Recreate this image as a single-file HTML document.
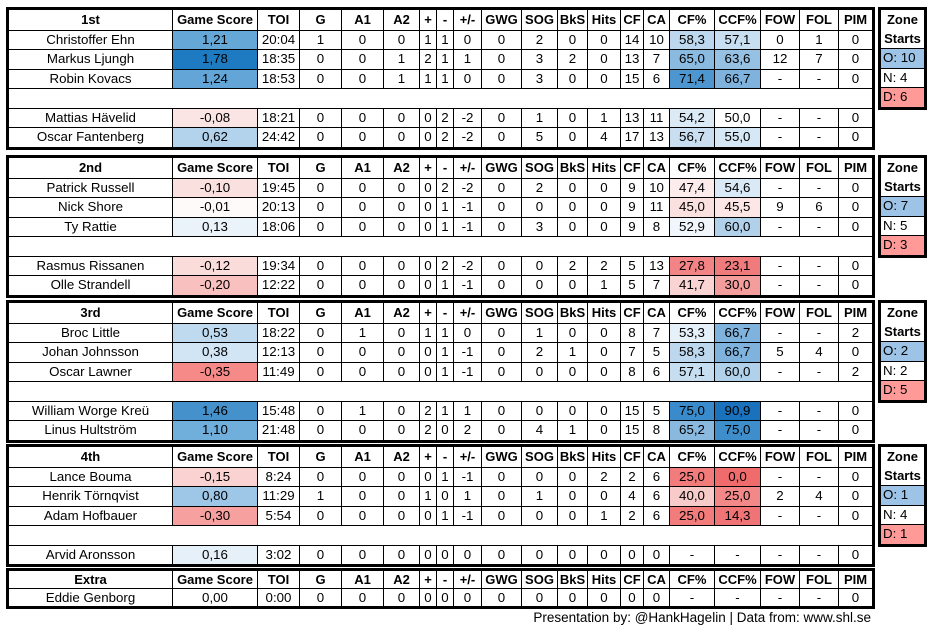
<!DOCTYPE html>
<html><head><meta charset="utf-8"><style>
body{margin:0;width:931px;height:635px;background:#fff;position:relative;font-family:"Liberation Sans",sans-serif;font-size:13.3px;color:#000;overflow:hidden}
table{position:absolute;border-collapse:collapse;table-layout:fixed;border:3px solid #000}
td,th{border:1px solid #000;padding:0;text-align:center;white-space:nowrap;overflow:hidden;line-height:16px}
th{font-weight:bold;height:19.5px;font-size:13px}
td{height:18.5px}
tr.b td{border-left:none;border-right:none}
.m{left:6px;width:869px}
.z{left:878px;width:49px}
.z td{text-align:left;padding-left:2px}
.z td.h{font-weight:bold;text-align:center;padding:0;border-top:none;border-bottom:none;font-size:13px}
.O{background:#9dc3e6}.D{background:#ff9a99}
.x th{height:17px}.x td{height:17px}
.f{position:absolute;left:0;width:871px;text-align:right;top:610px;font-size:13.5px}
</style></head><body>

<table class="m" style="top:7px">
<colgroup><col style="width:165px"><col style="width:85px"><col style="width:42px"><col style="width:42px"><col style="width:42px"><col style="width:36px"><col style="width:17px"><col style="width:17px"><col style="width:28px"><col style="width:40px"><col style="width:36px"><col style="width:30px"><col style="width:33px"><col style="width:23px"><col style="width:26px"><col style="width:45px"><col style="width:46px"><col style="width:39px"><col style="width:39px"><col style="width:35px"></colgroup>
<tr><th>1st</th><th>Game Score</th><th>TOI</th><th>G</th><th>A1</th><th>A2</th><th>+</th><th>-</th><th>+/-</th><th>GWG</th><th>SOG</th><th>BkS</th><th>Hits</th><th>CF</th><th>CA</th><th>CF%</th><th>CCF%</th><th>FOW</th><th>FOL</th><th>PIM</th></tr>
<tr><td>Christoffer Ehn</td><td style="background:#65a7d7">1,21</td><td>20:04</td><td>1</td><td>0</td><td>0</td><td>1</td><td>1</td><td>0</td><td>0</td><td>2</td><td>0</td><td>0</td><td>14</td><td>10</td><td style="background:#bcd7ee">58,3</td><td style="background:#c8def1">57,1</td><td>0</td><td>1</td><td>0</td></tr>
<tr><td>Markus Ljungh</td><td style="background:#1f7bc1">1,78</td><td>18:35</td><td>0</td><td>0</td><td>1</td><td>2</td><td>1</td><td>1</td><td>0</td><td>3</td><td>2</td><td>0</td><td>13</td><td>7</td><td style="background:#8bbae0">65,0</td><td style="background:#97c1e3">63,6</td><td>12</td><td>7</td><td>0</td></tr>
<tr><td>Robin Kovacs</td><td style="background:#62a5d6">1,24</td><td>18:53</td><td>0</td><td>0</td><td>1</td><td>1</td><td>1</td><td>0</td><td>0</td><td>3</td><td>0</td><td>0</td><td>15</td><td>6</td><td style="background:#4e96cf">71,4</td><td style="background:#7fb3dd">66,7</td><td>-</td><td>-</td><td>0</td></tr>
<tr class="b"><td colspan="20"></td></tr>
<tr><td>Mattias Hävelid</td><td style="background:#fbe4e4">-0,08</td><td>18:21</td><td>0</td><td>0</td><td>0</td><td>0</td><td>2</td><td>-2</td><td>0</td><td>1</td><td>0</td><td>1</td><td>13</td><td>11</td><td style="background:#dceaf6">54,2</td><td>50,0</td><td>-</td><td>-</td><td>0</td></tr>
<tr><td>Oscar Fantenberg</td><td style="background:#b3d3ec">0,62</td><td>24:42</td><td>0</td><td>0</td><td>0</td><td>0</td><td>2</td><td>-2</td><td>0</td><td>5</td><td>0</td><td>4</td><td>17</td><td>13</td><td style="background:#c9dff1">56,7</td><td style="background:#d6e7f5">55,0</td><td>-</td><td>-</td><td>0</td></tr>
</table>
<table class="z" style="top:7px"><tr><td class="h" style="height:19.5px">Zone</td></tr><tr><td class="h">Starts</td></tr><tr><td class="O">O: 10</td></tr><tr><td>N: 4</td></tr><tr><td class="D">D: 6</td></tr></table>

<table class="m" style="top:155px">
<colgroup><col style="width:165px"><col style="width:85px"><col style="width:42px"><col style="width:42px"><col style="width:42px"><col style="width:36px"><col style="width:17px"><col style="width:17px"><col style="width:28px"><col style="width:40px"><col style="width:36px"><col style="width:30px"><col style="width:33px"><col style="width:23px"><col style="width:26px"><col style="width:45px"><col style="width:46px"><col style="width:39px"><col style="width:39px"><col style="width:35px"></colgroup>
<tr><th>2nd</th><th>Game Score</th><th>TOI</th><th>G</th><th>A1</th><th>A2</th><th>+</th><th>-</th><th>+/-</th><th>GWG</th><th>SOG</th><th>BkS</th><th>Hits</th><th>CF</th><th>CA</th><th>CF%</th><th>CCF%</th><th>FOW</th><th>FOL</th><th>PIM</th></tr>
<tr><td>Patrick Russell</td><td style="background:#fbe0e0">-0,10</td><td>19:45</td><td>0</td><td>0</td><td>0</td><td>0</td><td>2</td><td>-2</td><td>0</td><td>2</td><td>0</td><td>0</td><td>9</td><td>10</td><td style="background:#fcecec">47,4</td><td style="background:#dae9f6">54,6</td><td>-</td><td>-</td><td>0</td></tr>
<tr><td>Nick Shore</td><td style="background:#fefafa">-0,01</td><td>20:13</td><td>0</td><td>0</td><td>0</td><td>0</td><td>1</td><td>-1</td><td>0</td><td>0</td><td>0</td><td>0</td><td>9</td><td>11</td><td style="background:#fbe0e0">45,0</td><td style="background:#fce6e6">45,5</td><td>9</td><td>6</td><td>0</td></tr>
<tr><td>Ty Rattie</td><td style="background:#eaf3fa">0,13</td><td>18:06</td><td>0</td><td>0</td><td>0</td><td>0</td><td>1</td><td>-1</td><td>0</td><td>3</td><td>0</td><td>0</td><td>9</td><td>8</td><td style="background:#f0f6fb">52,9</td><td style="background:#b1d1eb">60,0</td><td>-</td><td>-</td><td>0</td></tr>
<tr class="b"><td colspan="20"></td></tr>
<tr><td>Rasmus Rissanen</td><td style="background:#fadcdb">-0,12</td><td>19:34</td><td>0</td><td>0</td><td>0</td><td>0</td><td>2</td><td>-2</td><td>0</td><td>0</td><td>2</td><td>2</td><td>5</td><td>13</td><td style="background:#f28485">27,8</td><td style="background:#f07b7c">23,1</td><td>-</td><td>-</td><td>0</td></tr>
<tr><td>Olle Strandell</td><td style="background:#f8c1c0">-0,20</td><td>12:22</td><td>0</td><td>0</td><td>0</td><td>0</td><td>1</td><td>-1</td><td>0</td><td>0</td><td>0</td><td>1</td><td>5</td><td>7</td><td style="background:#fad3d3">41,7</td><td style="background:#f49d9d">30,0</td><td>-</td><td>-</td><td>0</td></tr>
</table>
<table class="z" style="top:155px"><tr><td class="h" style="height:19.5px">Zone</td></tr><tr><td class="h">Starts</td></tr><tr><td class="O">O: 7</td></tr><tr><td>N: 5</td></tr><tr><td class="D">D: 3</td></tr></table>

<table class="m" style="top:300px">
<colgroup><col style="width:165px"><col style="width:85px"><col style="width:42px"><col style="width:42px"><col style="width:42px"><col style="width:36px"><col style="width:17px"><col style="width:17px"><col style="width:28px"><col style="width:40px"><col style="width:36px"><col style="width:30px"><col style="width:33px"><col style="width:23px"><col style="width:26px"><col style="width:45px"><col style="width:46px"><col style="width:39px"><col style="width:39px"><col style="width:35px"></colgroup>
<tr><th>3rd</th><th>Game Score</th><th>TOI</th><th>G</th><th>A1</th><th>A2</th><th>+</th><th>-</th><th>+/-</th><th>GWG</th><th>SOG</th><th>BkS</th><th>Hits</th><th>CF</th><th>CA</th><th>CF%</th><th>CCF%</th><th>FOW</th><th>FOL</th><th>PIM</th></tr>
<tr><td>Broc Little</td><td style="background:#bfdaef">0,53</td><td>18:22</td><td>0</td><td>1</td><td>0</td><td>1</td><td>1</td><td>0</td><td>0</td><td>1</td><td>0</td><td>0</td><td>8</td><td>7</td><td style="background:#e6f0f9">53,3</td><td style="background:#7fb3dd">66,7</td><td>-</td><td>-</td><td>2</td></tr>
<tr><td>Johan Johnsson</td><td style="background:#d2e5f4">0,38</td><td>12:13</td><td>0</td><td>0</td><td>0</td><td>0</td><td>1</td><td>-1</td><td>0</td><td>2</td><td>1</td><td>0</td><td>7</td><td>5</td><td style="background:#bcd7ee">58,3</td><td style="background:#7fb3dd">66,7</td><td>5</td><td>4</td><td>0</td></tr>
<tr><td>Oscar Lawner</td><td style="background:#f58a89">-0,35</td><td>11:49</td><td>0</td><td>0</td><td>0</td><td>0</td><td>1</td><td>-1</td><td>0</td><td>0</td><td>0</td><td>0</td><td>8</td><td>6</td><td style="background:#c7def1">57,1</td><td style="background:#b1d1eb">60,0</td><td>-</td><td>-</td><td>2</td></tr>
<tr class="b"><td colspan="20"></td></tr>
<tr><td>William Worge Kreü</td><td style="background:#4591cc">1,46</td><td>15:48</td><td>0</td><td>1</td><td>0</td><td>2</td><td>1</td><td>1</td><td>0</td><td>0</td><td>0</td><td>0</td><td>15</td><td>5</td><td style="background:#3a8bcb">75,0</td><td style="background:#1a72bd">90,9</td><td>-</td><td>-</td><td>0</td></tr>
<tr><td>Linus Hultström</td><td style="background:#70aedb">1,10</td><td>21:48</td><td>0</td><td>0</td><td>0</td><td>2</td><td>0</td><td>2</td><td>0</td><td>4</td><td>1</td><td>0</td><td>15</td><td>8</td><td style="background:#8ab9e0">65,2</td><td style="background:#3f8ecc">75,0</td><td>-</td><td>-</td><td>0</td></tr>
</table>
<table class="z" style="top:300px"><tr><td class="h" style="height:19.5px">Zone</td></tr><tr><td class="h">Starts</td></tr><tr><td class="O">O: 2</td></tr><tr><td>N: 2</td></tr><tr><td class="D">D: 5</td></tr></table>

<table class="m" style="top:444px">
<colgroup><col style="width:165px"><col style="width:85px"><col style="width:42px"><col style="width:42px"><col style="width:42px"><col style="width:36px"><col style="width:17px"><col style="width:17px"><col style="width:28px"><col style="width:40px"><col style="width:36px"><col style="width:30px"><col style="width:33px"><col style="width:23px"><col style="width:26px"><col style="width:45px"><col style="width:46px"><col style="width:39px"><col style="width:39px"><col style="width:35px"></colgroup>
<tr><th>4th</th><th>Game Score</th><th>TOI</th><th>G</th><th>A1</th><th>A2</th><th>+</th><th>-</th><th>+/-</th><th>GWG</th><th>SOG</th><th>BkS</th><th>Hits</th><th>CF</th><th>CA</th><th>CF%</th><th>CCF%</th><th>FOW</th><th>FOL</th><th>PIM</th></tr>
<tr><td>Lance Bouma</td><td style="background:#f9d2d1">-0,15</td><td>8:24</td><td>0</td><td>0</td><td>0</td><td>0</td><td>1</td><td>-1</td><td>0</td><td>0</td><td>0</td><td>2</td><td>2</td><td>6</td><td style="background:#f27b7c">25,0</td><td style="background:#ef6b6c">0,0</td><td>-</td><td>-</td><td>0</td></tr>
<tr><td>Henrik Törnqvist</td><td style="background:#9ec7e7">0,80</td><td>11:29</td><td>1</td><td>0</td><td>0</td><td>1</td><td>0</td><td>1</td><td>0</td><td>1</td><td>0</td><td>0</td><td>4</td><td>6</td><td style="background:#f8cbcb">40,0</td><td style="background:#f38889">25,0</td><td>2</td><td>4</td><td>0</td></tr>
<tr><td>Adam Hofbauer</td><td style="background:#f6a09f">-0,30</td><td>5:54</td><td>0</td><td>0</td><td>0</td><td>0</td><td>1</td><td>-1</td><td>0</td><td>0</td><td>0</td><td>1</td><td>2</td><td>6</td><td style="background:#f27b7c">25,0</td><td style="background:#f07475">14,3</td><td>-</td><td>-</td><td>0</td></tr>
<tr class="b"><td colspan="20"></td></tr>
<tr><td>Arvid Aronsson</td><td style="background:#e6f0f9">0,16</td><td>3:02</td><td>0</td><td>0</td><td>0</td><td>0</td><td>0</td><td>0</td><td>0</td><td>0</td><td>0</td><td>0</td><td>0</td><td>0</td><td>-</td><td>-</td><td>-</td><td>-</td><td>0</td></tr>
</table>
<table class="z" style="top:444px"><tr><td class="h" style="height:19.5px">Zone</td></tr><tr><td class="h">Starts</td></tr><tr><td class="O">O: 1</td></tr><tr><td>N: 4</td></tr><tr><td class="D">D: 1</td></tr></table>

<table class="m x" style="top:568px">
<colgroup><col style="width:165px"><col style="width:85px"><col style="width:42px"><col style="width:42px"><col style="width:42px"><col style="width:36px"><col style="width:17px"><col style="width:17px"><col style="width:28px"><col style="width:40px"><col style="width:36px"><col style="width:30px"><col style="width:33px"><col style="width:23px"><col style="width:26px"><col style="width:45px"><col style="width:46px"><col style="width:39px"><col style="width:39px"><col style="width:35px"></colgroup>
<tr><th>Extra</th><th>Game Score</th><th>TOI</th><th>G</th><th>A1</th><th>A2</th><th>+</th><th>-</th><th>+/-</th><th>GWG</th><th>SOG</th><th>BkS</th><th>Hits</th><th>CF</th><th>CA</th><th>CF%</th><th>CCF%</th><th>FOW</th><th>FOL</th><th>PIM</th></tr>
<tr><td>Eddie Genborg</td><td>0,00</td><td>0:00</td><td>0</td><td>0</td><td>0</td><td>0</td><td>0</td><td>0</td><td>0</td><td>0</td><td>0</td><td>0</td><td>0</td><td>0</td><td>-</td><td>-</td><td>-</td><td>-</td><td>0</td></tr>
</table>

<div class="f">Presentation by: @HankHagelin | Data from: www.shl.se</div>
</body></html>
